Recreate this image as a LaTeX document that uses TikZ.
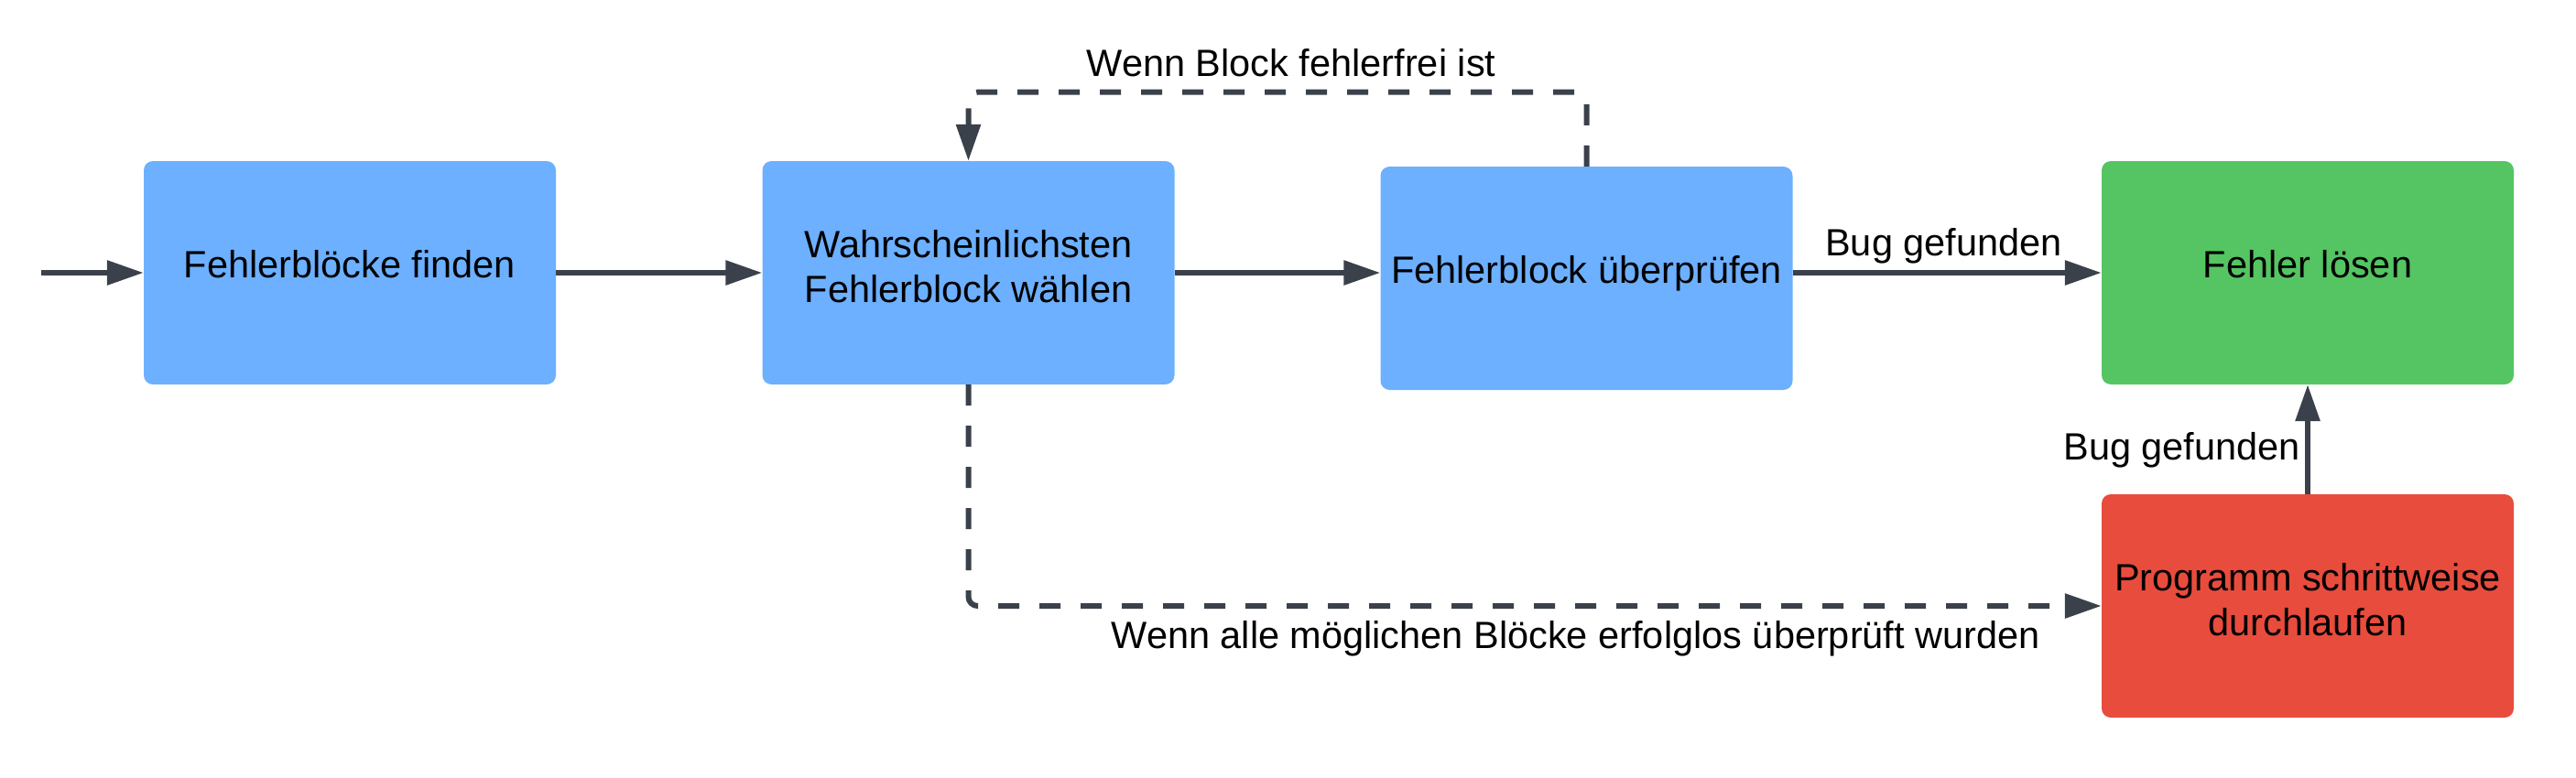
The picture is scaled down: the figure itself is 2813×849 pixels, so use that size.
\documentclass[tikz,border=0pt]{standalone}
\usepackage{fontspec}
\setmainfont{Liberation Sans}
\usetikzlibrary{arrows.meta}
\definecolor{boxblue}{HTML}{6CB0FF}
\definecolor{boxgreen}{HTML}{55C462}
\definecolor{boxred}{HTML}{E84C3D}
\definecolor{linegray}{HTML}{3A414A}
\newcommand\twolines[2]{\vtop{\halign{\hfil##\hfil\cr#1\cr#2\cr}}}
\tikzset{
  box/.style={rectangle, rounded corners=10pt, minimum width=450pt, minimum height=244pt,
    inner sep=0pt, draw=none, font=\fontsize{41.5}{49}\selectfont, text=black},
  oneline/.style={text height=30pt, text depth=20pt},
  twoline/.style={text height=30pt, text depth=62.6pt},
  lbl/.style={inner sep=0pt, font=\fontsize{41.5}{49}\selectfont, text=black},
  conn/.style={draw=linegray, line width=6pt, -{Triangle[length=40pt,width=26pt]}},
  dashconn/.style={conn, dash pattern=on 23pt off 22pt, rounded corners=10pt}
}
\begin{document}
\begin{tikzpicture}[x=1pt,y=-1pt]
\useasboundingbox (0,0) rectangle (2813,849);
\node[box, oneline, fill=boxblue] (b1) at (382,298) {Fehlerblöcke finden};
\node[box, twoline, fill=boxblue] (b2) at (1057.5,298) {\twolines{Wahrscheinlichsten}{Fehlerblock wählen}};
\node[box, oneline, fill=boxblue] (b3) at (1732.5,304) {Fehlerblock überprüfen};
\node[box, oneline, fill=boxgreen] (b4) at (2520,298) {Fehler lösen};
\node[box, twoline, fill=boxred] (b5) at (2520,662) {\twolines{Programm schrittweise}{durchlaufen}};
\coordinate (start) at (45,298);
\coordinate (looptop) at (1400,100.7);
\draw[conn] (start) -- (b1.west);
\draw[conn] (b1.east) -- (b2.west);
\draw[conn] (b2.east) -- (b2.east -| b3.west);
\draw[conn] (b4.west -| b3.east) -- (b4.west);
\draw[conn] (b5.north) -- (b4.south);
\draw[dashconn] (b3.north) -- (b3.north |- looptop) -| (b2.north);
\draw[dashconn] (b2.south) |- (b5.west);
\node[lbl, anchor=base] (l1) at (1410,83) {Wenn Block fehlerfrei ist};
\node[lbl, anchor=base] (l2) at (2122.5,279) {Bug gefunden};
\node[lbl, anchor=base east] (l3) at (2512,502) {Bug gefunden};
\node[lbl, anchor=base east] (l4) at (2228,708) {Wenn alle möglichen Blöcke erfolglos überprüft wurden};
\end{tikzpicture}
\end{document}
